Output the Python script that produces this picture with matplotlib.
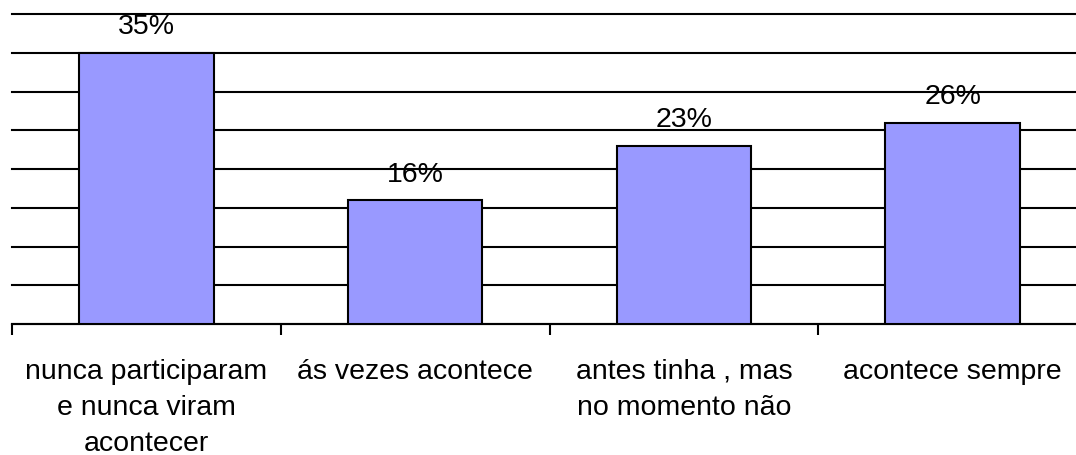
import matplotlib
matplotlib.use('AGG')
import matplotlib.pyplot as plt

categories = ['nunca participaram\ne nunca viram\nacontecer',
              'ás vezes acontece',
              'antes tinha , mas\nno momento não',
              'acontece sempre']
values = [35, 16, 23, 26]
labels = ['35%', '16%', '23%', '26%']

plt.rcParams['font.family'] = ['Liberation Sans', 'DejaVu Sans']

fig = plt.figure(figsize=(10.76, 4.55), dpi=100)
ax = fig.add_axes([12 / 1076, 131 / 455, 1075 / 1076, 310 / 455])

x = range(len(values))
ax.bar(x, values, width=0.5, color='#9999FF', edgecolor='black', linewidth=1.5, zorder=3)

for xi, v, lab in zip(x, values, labels):
    ax.annotate(lab, (xi, v), xytext=(0, 9), textcoords='offset points',
                ha='center', va='bottom', fontsize=20.5)

ax.set_xlim(-0.5, 3.5)
ax.set_ylim(0, 40)
ax.set_yticks(range(0, 41, 5))
ax.yaxis.grid(True, color='black', linewidth=1.5, zorder=0)
for line in ax.get_ygridlines():
    line.set_clip_on(False)
ax.tick_params(axis='y', left=False, labelleft=False)

ax.set_xticks([i - 0.5 for i in range(4)])
ax.set_xticks(list(x), minor=True)
ax.set_xticklabels([])
ax.set_xticklabels(categories, minor=True, fontsize=20.5, linespacing=1.5)
ax.tick_params(axis='x', which='major', direction='out', length=8, width=1.5, color='black')
ax.tick_params(axis='x', which='minor', length=0, pad=25)

for side in ['left', 'right', 'top']:
    ax.spines[side].set_visible(False)
ax.spines['bottom'].set_linewidth(1.5)
ax.set_axisbelow(True)

fig.savefig('out.png', dpi=100)
